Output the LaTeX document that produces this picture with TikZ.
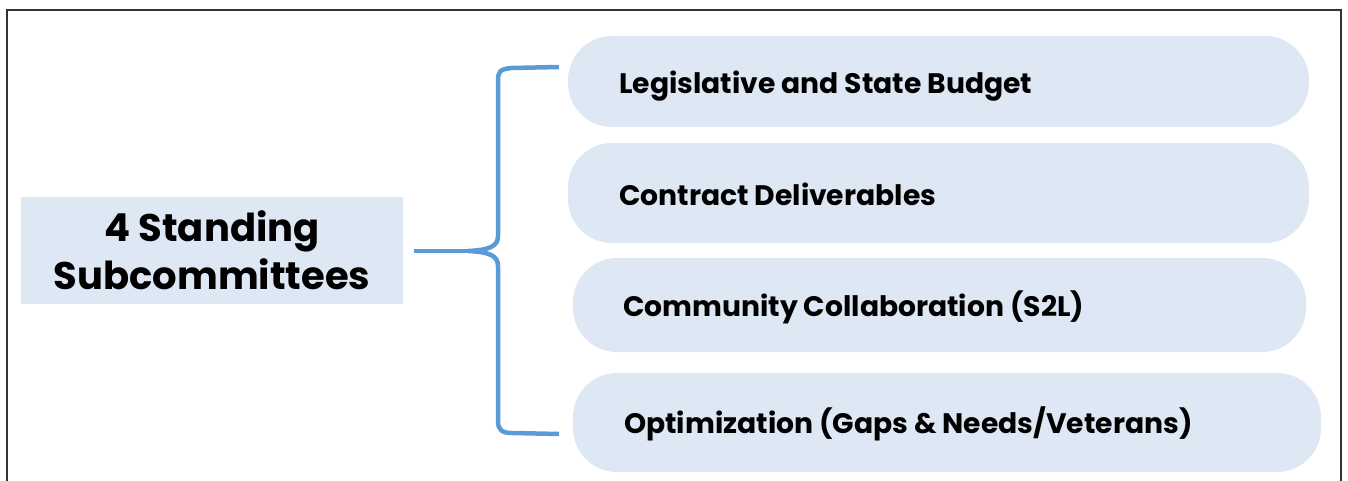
\documentclass[tikz,border=0pt]{standalone}
\usepackage{fontspec}
\setmainfont{Poppins}
\definecolor{pillfill}{HTML}{DDE8F4}
\definecolor{bracecol}{HTML}{5B9BD5}
\definecolor{framecol}{HTML}{333333}
\begin{document}
\begin{tikzpicture}[x=1pt,y=-1pt,
  pillbox/.style={fill=pillfill, rounded corners=44pt, inner sep=0pt},
  mainbox/.style={fill=pillfill, inner sep=0pt, align=center, font=\fontsize{38.5}{48}\selectfont\bfseries},
  pilltext/.style={anchor=base west, inner sep=0pt, font=\fontsize{28.2}{34}\selectfont\bfseries},
  bracestyle/.style={draw=bracecol, line width=4.5pt},
  framestyle/.style={draw=framecol, line width=2pt}]
\useasboundingbox (0,0) rectangle (1348,481);
\draw[framestyle] (7,481) -- (7,10) -- (1341,10) -- (1341,481);

\node[pillbox, minimum width=741pt, minimum height=91pt] (p1) at (938.5,81.5) {};
\node[pillbox, minimum width=741pt, minimum height=100pt] (p2) at (938.5,193) {};
\node[pillbox, minimum width=733pt, minimum height=94pt] (p3) at (939.5,305) {};
\node[pillbox, minimum width=748pt, minimum height=99pt] (p4) at (947,422.5) {};

\node[pilltext] (t1) at (619,94) {Legislative and State Budget};
\node[pilltext] (t2) at (619,205) {Contract Deliverables};
\node[pilltext] (t3) at (623,316) {Community Collaboration (S2L)};
\node[pilltext] (t4) at (624,433) {Optimization (Gaps \& Needs/Veterans)};

\node[mainbox, minimum width=382pt, minimum height=107pt] (main) at (212,250.5) {4 Standing\\Subcommittees};

\coordinate (btop) at (559,67);
\coordinate (bbot) at (559,434);
\coordinate (tip) at (468,251);
\coordinate (cstart) at (414,251);

\draw[bracestyle] (btop) -- (512,68) .. controls (499,69) and (498,72) .. (498,82) -- (498,236)
  .. controls (498,246) and (490,250) .. (tip)
  .. controls (490,252) and (498,256) .. (498,266) -- (498,421)
  .. controls (498,430) and (502,433) .. (512,433) -- (bbot);
\draw[bracestyle] (cstart) -- (tip);
\end{tikzpicture}
\end{document}
